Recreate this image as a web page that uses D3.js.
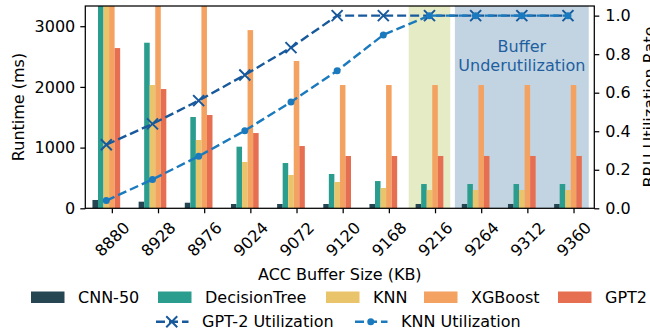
<!DOCTYPE html>
<html><head><meta charset="utf-8">
<script src="https://cdn.jsdelivr.net/npm/d3@7"></script>
<style>body{margin:0;background:#fff}svg{display:block}text{font-family:"DejaVu Sans",sans-serif}</style>
</head><body><svg id="c" width="650" height="333"></svg>
<script>
const categories = ["8880","8928","8976","9024","9072","9120","9168","9216","9264","9312","9360"];
const seriesNames = ["CNN-50","DecisionTree","KNN","XGBoost","GPT2"];
const seriesColors = ["#264653","#2a9d8f","#e9c46a","#f4a261","#e76f51"];
const cnn50 = [137,109,92,71,71,71,71,71,71,71,71];
const decisionTree = [3900,2728,1504,1015,746,565,449,400,400,400,400];
const knn = [3500,2031,1125,763,549,433,334,301,301,301,301];
const xgboost = [5200,4300,3600,2936,2427,2031,2031,2031,2031,2031,2031];
const gpt2 = [2640,1965,1537,1240,1026,862,862,862,862,862,862];
const gpt2Util = [0.33,0.438,0.559,0.692,0.834,1.0,1.0,1.0,1.0,1.0,1.0];
const knnUtil = [0.04,0.15,0.27,0.403,0.552,0.714,0.90,1.0,1.0,1.0,1.0];
const leftTicks = [0,1000,2000,3000];
const rightTicks = [0,0.2,0.4,0.6,0.8,1.0];
const series = [cnn50, decisionTree, knn, xgboost, gpt2];

const svg = d3.select("#c");
const L = 85.3, R = 594.3, T = 6, B = 208.3;
const x = d3.scaleLinear().domain([-0.455, 10.57]).range([L, R]);
const y = d3.scaleLinear().domain([0, 3333]).range([B, T]);
const y2 = d3.scaleLinear().domain([0, 1.05]).range([B, T]);
const bw = 0.12;

svg.append("defs").append("clipPath").attr("id","clip")
  .append("rect").attr("x",L).attr("y",T).attr("width",R-L).attr("height",B-T);
const g = svg.append("g").attr("clip-path","url(#clip)");

// shaded regions
g.append("rect").attr("x",x(6.55)).attr("width",x(7.45)-x(6.55)).attr("y",T).attr("height",B-T).attr("fill","#e5ebc5");
g.append("rect").attr("x",x(7.55)).attr("width",x(10.45)-x(7.55)).attr("y",T).attr("height",B-T).attr("fill","#c2d4e1");

// bars
series.forEach((s, k) => {
  g.selectAll(null).data(s).enter().append("rect")
    .attr("x", (d,i) => x(i + (k-2)*bw - bw/2))
    .attr("width", x(bw) - x(0))
    .attr("y", d => y(d))
    .attr("height", d => B - y(d))
    .attr("fill", seriesColors[k]);
});

// annotation
const ann = svg.append("text").attr("fill","#1f5fa0").attr("font-size",16).attr("text-anchor","middle");
ann.append("tspan").attr("x", x(9)).attr("y", 52).text("Buffer");
ann.append("tspan").attr("x", x(9)).attr("y", 71).text("Underutilization");

// lines
const gptColor = "#17599b", knnColor = "#1b7abd";
const line = d3.line().x((d,i)=>x(i)).y(d=>y2(d));
svg.append("path").datum(gpt2Util).attr("d",line).attr("fill","none").attr("stroke",gptColor).attr("stroke-width",2.4).attr("stroke-dasharray","9,4");
svg.append("path").datum(knnUtil).attr("d",line).attr("fill","none").attr("stroke",knnColor).attr("stroke-width",2.4).attr("stroke-dasharray","9,4");
function xMarker(sel, cx, cy, col){
  const s=5.5;
  sel.append("path").attr("d",`M${cx-s},${cy-s}L${cx+s},${cy+s}M${cx-s},${cy+s}L${cx+s},${cy-s}`).attr("stroke",col).attr("stroke-width",2);
}
gpt2Util.forEach((d,i)=>xMarker(svg, x(i), y2(d), gptColor));
svg.selectAll(null).data(knnUtil).enter().append("circle").attr("cx",(d,i)=>x(i)).attr("cy",d=>y2(d)).attr("r",3.5).attr("fill",knnColor);

// axes frame
svg.append("rect").attr("x",L).attr("y",T).attr("width",R-L).attr("height",B-T).attr("fill","none").attr("stroke","#000").attr("stroke-width",1.25);

// left axis
const la = svg.append("g").attr("transform",`translate(${L},0)`)
  .call(d3.axisLeft(y).tickValues(leftTicks).tickSize(5).tickPadding(5).tickFormat(d3.format("d")));
// right axis
const ra = svg.append("g").attr("transform",`translate(${R},0)`)
  .call(d3.axisRight(y2).tickValues(rightTicks).tickSize(5).tickPadding(6).tickFormat(d3.format(".1f")));
// bottom axis
const ba = svg.append("g").attr("transform",`translate(0,${B})`)
  .call(d3.axisBottom(x).tickValues(categories.map((c,i)=>i+bw)).tickSize(5).tickFormat((d,i)=>categories[i]));
[la,ra,ba].forEach(a=>{
  a.select(".domain").remove();
  a.selectAll(".tick line").attr("stroke","#000").attr("stroke-width",1.25);
  a.selectAll(".tick text").attr("font-size",16).attr("fill","#000").attr("font-family","DejaVu Sans");
});
ba.selectAll(".tick text").attr("y",0).attr("dy",0)
  .attr("text-anchor","middle").attr("dominant-baseline","central")
  .attr("transform","translate(0,31) rotate(-45)");

// axis labels
svg.append("text").attr("transform","translate(24,107) rotate(-90)").attr("text-anchor","middle").attr("font-size",16).text("Runtime (ms)");
svg.append("text").attr("transform","translate(655,107) rotate(-90)").attr("text-anchor","middle").attr("font-size",16).text("BRU Utilization Rate");
svg.append("text").attr("x",(L+R)/2).attr("y",280).attr("text-anchor","middle").attr("font-size",16).text("ACC Buffer Size (KB)");

// legend row 1
const patchX = [31,158,326,424,558];
seriesNames.forEach((n,k)=>{
  svg.append("rect").attr("x",patchX[k]).attr("y",291.5).attr("width",33.5).attr("height",11.5).attr("fill",seriesColors[k]);
  svg.append("text").attr("x",patchX[k]+47).attr("y",297).attr("dominant-baseline","central").attr("font-size",16).text(n);
});
// legend row 2
function legLine(x0, col, lbl, mk){
  const yy=321.7;
  svg.append("line").attr("x1",x0).attr("x2",x0+33.5).attr("y1",yy).attr("y2",yy).attr("stroke",col).attr("stroke-width",2.4).attr("stroke-dasharray","9,4").attr("stroke-dashoffset",-1);
  if(mk==="x") xMarker(svg, x0+16.75, yy, col);
  else svg.append("circle").attr("cx",x0+16.75).attr("cy",yy).attr("r",3.5).attr("fill",col);
  svg.append("text").attr("x",x0+47).attr("y",yy).attr("dominant-baseline","central").attr("font-size",16).text(lbl);
}
legLine(155, gptColor, "GPT-2 Utilization", "x");
legLine(354, knnColor, "KNN Utilization", "o");
</script></body></html>
